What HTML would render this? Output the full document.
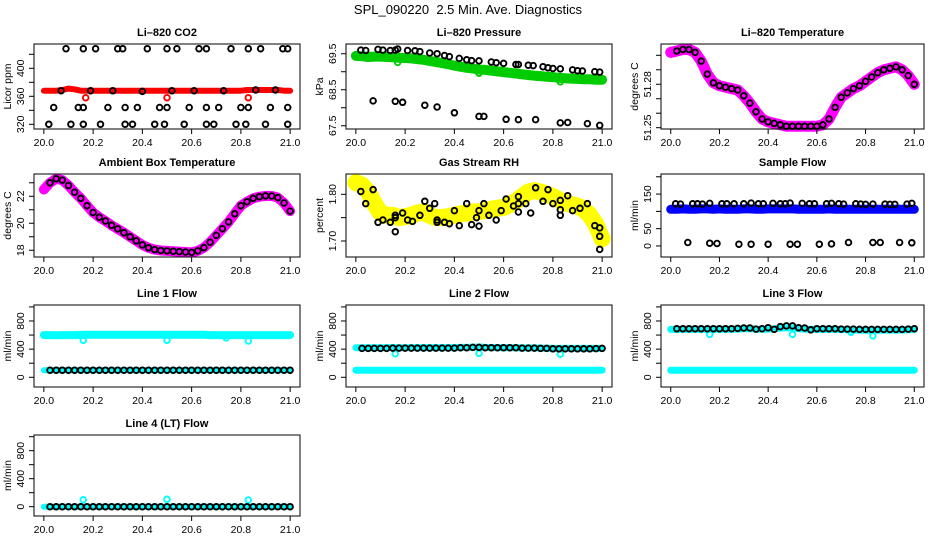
<!DOCTYPE html>
<html><head><meta charset="utf-8"><style>
html,body{margin:0;padding:0;background:#fff;}
svg{display:block;font-family:"Liberation Sans",sans-serif;}
</style></head><body>
<svg id="chart" width="936" height="540" xmlns="http://www.w3.org/2000/svg">
<text x="468" y="14" text-anchor="middle" font-size="13">SPL_090220&#160; 2.5 Min. Ave. Diagnostics</text>
</svg>
<script>
const T41=[20.0,20.025,20.05,20.075,20.1,20.125,20.15,20.175,20.2,20.225,20.25,20.275,20.3,20.325,20.35,20.375,20.4,20.425,20.45,20.475,20.5,20.525,20.55,20.575,20.6,20.625,20.65,20.675,20.7,20.725,20.75,20.775,20.8,20.825,20.85,20.875,20.9,20.925,20.95,20.975,21.0];
const xTicks=[20.0,20.2,20.4,20.6,20.8,21.0];
const xTickLabels=["20.0","20.2","20.4","20.6","20.8","21.0"];
// CO2
const co2Red=[368,368,368,369,371,370,368,368,368,368,368,368,368,368,368,368,368,368,368,368,368,368,368,368,368,368,368,368,368,368,368,368,368,369,369,369,369,369,369,368,368];
const co2RedPtsT=[20.17,20.50,20.83];
const co2RedPtsV=[358,358,358];
const co2BlkT=[20.09,20.16,20.21,20.30,20.32,20.42,20.50,20.54,20.63,20.66,20.76,20.83,20.88,20.97,20.99,20.04,20.14,20.16,20.26,20.33,20.38,20.47,20.50,20.59,20.66,20.71,20.80,20.83,20.92,20.99,20.02,20.11,20.16,20.23,20.33,20.36,20.45,20.49,20.57,20.66,20.69,20.78,20.82,20.90,20.99,20.07,20.19,20.28,20.40,20.52,20.61,20.73,20.86,20.94];
const co2BlkV=[428,428,428,428,428,428,428,428,428,428,428,428,428,428,428,344,344,344,344,344,344,344,344,344,344,344,344,344,344,344,320,320,320,320,320,320,320,320,320,320,320,320,320,320,320,368,368,368,367,368,368,368,369,369];
// Pressure
const presGreen=[69.44,69.43,69.41,69.42,69.42,69.41,69.40,69.39,69.38,69.37,69.35,69.33,69.30,69.27,69.24,69.21,69.17,69.14,69.11,69.09,69.06,69.05,69.03,69.01,68.99,68.97,68.95,68.93,68.91,68.89,68.88,68.86,68.85,68.83,68.82,68.81,68.80,68.79,68.79,68.78,68.78];
const presBlkT=[20.02,20.04,20.09,20.11,20.14,20.16,20.17,20.21,20.24,20.26,20.30,20.33,20.36,20.38,20.42,20.45,20.47,20.50,20.55,20.57,20.60,20.65,20.66,20.70,20.72,20.76,20.78,20.80,20.83,20.88,20.90,20.92,20.97,20.99,20.07,20.16,20.19,20.28,20.33,20.40,20.50,20.52,20.61,20.66,20.73,20.83,20.86,20.94,20.99];
const presBlkV=[69.60,69.59,69.62,69.60,69.59,69.60,69.63,69.59,69.58,69.56,69.52,69.50,69.45,69.42,69.37,69.33,69.31,69.30,69.27,69.25,69.23,69.20,69.20,69.18,69.17,69.14,69.11,69.09,69.08,69.05,69.03,69.02,69.00,68.99,68.19,68.18,68.15,68.07,68.02,67.86,67.76,67.76,67.68,67.67,67.67,67.58,67.59,67.56,67.51];
const presGreenPtsT=[20.17,20.50,20.83];
const presGreenPtsV=[69.26,68.96,68.72];
// Temperature
const tempMag=[51.302,51.303,51.304,51.304,51.302,51.296,51.287,51.281,51.279,51.278,51.277,51.276,51.272,51.267,51.261,51.256,51.254,51.253,51.252,51.251,51.251,51.251,51.251,51.251,51.251,51.252,51.256,51.264,51.271,51.274,51.277,51.279,51.282,51.285,51.288,51.290,51.291,51.292,51.290,51.286,51.280];
// Ambient
const ambMag=[22.5,23.0,23.3,23.2,22.8,22.3,21.85,21.3,20.8,20.45,20.17,19.85,19.58,19.3,19.0,18.7,18.4,18.18,18.05,17.98,17.95,17.93,17.9,17.87,17.84,17.95,18.2,18.6,19.1,19.6,20.1,20.7,21.3,21.6,21.85,21.97,22.03,22.02,21.9,21.5,20.9];
// RH
const rhYel=[1.825,1.82,1.805,1.78,1.76,1.755,1.755,1.75,1.752,1.755,1.76,1.762,1.755,1.75,1.75,1.752,1.755,1.758,1.76,1.762,1.763,1.765,1.768,1.77,1.772,1.778,1.785,1.795,1.805,1.808,1.805,1.80,1.795,1.788,1.782,1.778,1.775,1.768,1.755,1.735,1.705];
const rhBlkT=[20.02,20.04,20.07,20.09,20.11,20.14,20.16,20.16,20.16,20.19,20.21,20.23,20.26,20.28,20.30,20.32,20.33,20.33,20.36,20.38,20.40,20.42,20.45,20.47,20.49,20.50,20.50,20.52,20.54,20.57,20.59,20.61,20.64,20.66,20.66,20.66,20.69,20.71,20.73,20.76,20.78,20.80,20.83,20.83,20.83,20.86,20.88,20.91,20.94,20.97,20.99,20.99,20.99];
const rhBlkV=[1.806,1.78,1.81,1.74,1.745,1.74,1.75,1.755,1.72,1.76,1.745,1.742,1.755,1.785,1.77,1.78,1.745,1.74,1.74,1.737,1.765,1.733,1.78,1.735,1.75,1.765,1.732,1.78,1.755,1.745,1.765,1.79,1.775,1.795,1.78,1.762,1.78,1.76,1.814,1.785,1.81,1.78,1.787,1.767,1.755,1.797,1.765,1.77,1.78,1.733,1.728,1.71,1.682];
// Sample flow
const sampBlue=[106,106,107,106,106,107,107,106,107,106,106,106,107,107,106,106,107,107,107,107,107,106,106,106,106,106,107,106,106,106,106,106,106,106,106,106,106,106,106,106,106];
const sampBlkT=[20.02,20.04,20.09,20.11,20.13,20.16,20.21,20.23,20.26,20.30,20.33,20.36,20.38,20.42,20.45,20.47,20.49,20.54,20.57,20.59,20.64,20.66,20.69,20.71,20.76,20.78,20.80,20.83,20.88,20.90,20.92,20.97,20.99,20.07,20.16,20.19,20.28,20.33,20.40,20.49,20.52,20.61,20.66,20.73,20.83,20.86,20.94,20.99];
const sampBlkV=[122,121,122,122,121,123,122,122,122,122,124,122,122,123,122,122,124,123,122,122,122,123,122,121,122,121,120,121,121,120,120,121,123,10,8,7,5,5,5,5,5,5,6,10,10,10,10,9];
// Line flows
const l1Cyan=[600,600,598,600,600,600,602,605,605,605,605,605,605,605,605,605,605,605,605,605,605,605,605,605,605,605,605,600,600,600,600,600,600,600,600,600,600,600,600,600,600];
const l1Low=[100,100,100,100,100,100,100,100,100,100,100,100,100,100,100,100,100,100,100,100,100,100,100,100,100,100,100,100,100,100,100,100,100,100,100,100,100,100,100,100,100];
const l1DipT=[20.16,20.50,20.74,20.83];
const l1DipV=[525,525,560,515];
const l2Cyan=[420,420,420,420,420,422,422,420,420,422,422,422,422,422,422,422,422,425,425,428,430,425,422,422,420,420,420,418,418,418,415,412,410,410,410,410,410,410,410,410,410];
const l2Blk=[410,410,410,410,410,410,415,415,415,415,415,415,415,415,415,415,415,420,420,425,425,420,420,420,420,420,420,415,415,415,410,410,405,405,405,405,405,405,405,408,410];
const l2DipT=[20.16,20.50,20.83];
const l2DipV=[335,340,330];
const l3Cyan=[680,680,680,680,680,680,680,680,680,680,682,685,690,690,685,682,685,690,700,705,700,690,685,680,680,680,680,680,678,675,672,670,668,668,670,670,670,670,672,675,680];
const l3Blk=[690,690,690,690,690,690,690,690,690,690,690,695,700,700,685,690,705,680,720,730,730,705,700,675,690,690,690,690,685,685,685,680,680,680,680,680,680,680,680,685,690];
const l3DipT=[20.16,20.50,20.74,20.83];
const l3DipV=[610,610,640,590];
const l4Zero=[0,0,0,0,0,0,0,0,0,0,0,0,0,0,0,0,0,0,0,0,0,0,0,0,0,0,0,0,0,0,0,0,0,0,0,0,0,0,0,0,0];
const l4BumpT=[20.16,20.50,20.83];
const l4BumpV=[100,105,95];

const svg=document.getElementById('chart');
const NS='http://www.w3.org/2000/svg';
function mk(tag,attrs,parent){const e=document.createElementNS(NS,tag);for(const k in attrs)e.setAttribute(k,attrs[k]);(parent||svg).appendChild(e);return e;}
const colL=[34,346,661],colR=[300,612,924],rowT=[44,174,305,435],rowB=[129,257,387,516];
const XMIN=19.96,XMAX=21.04;
const black='#000',red='#ff0000',green='#00cc00',mag='#ff00ff',yel='#ffff00',blue='#0000ff',cyan='#00ffff';

function panel(cfg){
  const L=colL[cfg.c],R=colR[cfg.c],T=rowT[cfg.r],B=rowB[cfg.r];
  const g=mk('g',{});
  
  
  const sx=v=>L+(v-XMIN)/(XMAX-XMIN)*(R-L);
  const sy=v=>B-(v-cfg.ymin)/(cfg.ymax-cfg.ymin)*(B-T);
  const marks=mk('g',{},g);
  
  
  cfg.series.forEach(s=>{
    if(s.kind==='band'){
      const pts=s.t.map((t,i)=>sx(t).toFixed(1)+','+sy(s.v[i]).toFixed(1)).join(' ');
      const pl=mk('polyline',{points:pts,fill:'none',stroke:s.col,'stroke-width':s.w,'stroke-linejoin':'round','stroke-linecap':'round'},marks);
      
      
    } else {
      s.t.forEach((t,i)=>{
        const c=mk('circle',{cx:sx(t).toFixed(1),cy:sy(s.v[i]).toFixed(1),r:2.8,fill:'none',stroke:s.col,'stroke-width':1.9},marks);
        
        
      });
    }
  });
  const box=mk('rect',{x:L,y:T,width:R-L,height:B-T,fill:'none',stroke:'#000','stroke-width':1},g);
  
  
  const ttl=mk('text',{x:(L+R)/2,y:T-8,'text-anchor':'middle','font-size':11,'font-weight':'bold'},g);
  ttl.textContent=cfg.title;
  
  
  xTicks.forEach((t,i)=>{
    const x=sx(t);
    mk('line',{x1:x,x2:x,y1:B,y2:B+5,stroke:'#000'},g);
    const tx=mk('text',{x:x,y:B+17,'text-anchor':'middle','font-size':10.5},g);
    tx.textContent=xTickLabels[i];
    
    
  });
  cfg.yt.forEach((v,i)=>{
    const y=sy(v);
    mk('line',{x1:L-5,x2:L,y1:y,y2:y,stroke:'#000'},g);
    if(cfg.ytl[i]){
      const tx=mk('text',{x:L-10,y:y,'text-anchor':'middle','font-size':10.5,transform:`rotate(-90 ${L-10} ${y})`},g);
      tx.textContent=cfg.ytl[i];
      
      
    }
  });
  const yl=(T+B)/2;
  const at=mk('text',{x:L-23,y:yl,'text-anchor':'middle','font-size':10.5,transform:`rotate(-90 ${L-23} ${yl})`},g);
  at.textContent=cfg.ylab;
  
  
}
const T40=T41.slice(1);
const flowTicks=[0,200,400,600,800,1000],flowLbl=['0','','400','','800',''];
panel({name:'co2-panel',r:0,c:0,title:'Li\u2013820 CO2',ylab:'Licor ppm',ymin:313.3,ymax:434.7,yt:[320,340,360,380,400,420],ytl:['320','','360','','400',''],
 series:[{kind:'band',t:T41,v:co2Red,col:red,w:6,name:'co2-band'},{kind:'pts',t:co2RedPtsT,v:co2RedPtsV,col:red,name:'co2-red'},{kind:'pts',t:co2BlkT,v:co2BlkV,col:black,name:'co2-black'}]});
panel({name:'pressure-panel',r:0,c:1,title:'Li\u2013820 Pressure',ylab:'kPa',ymin:67.41,ymax:69.77,yt:[67.5,68,68.5,69,69.5],ytl:['67.5','','68.5','','69.5'],
 series:[{kind:'band',t:T41,v:presGreen,col:green,w:10,name:'pressure-band'},{kind:'pts',t:presGreenPtsT,v:presGreenPtsV,col:green,name:'pressure-green'},{kind:'pts',t:presBlkT,v:presBlkV,col:black,name:'pressure-black'}]});
panel({name:'li820-temp-panel',r:0,c:2,title:'Li\u2013820 Temperature',ylab:'degrees C',ymin:51.2491,ymax:51.3078,yt:[51.25,51.26,51.27,51.28,51.29,51.30],ytl:['51.25','','','51.28','',''],
 series:[{kind:'band',t:T41,v:tempMag,col:mag,w:11,name:'temp-band'},{kind:'pts',t:T40,v:tempMag.slice(1),col:black,name:'temp-black'}]});
panel({name:'ambient-temp-panel',r:1,c:0,title:'Ambient Box Temperature',ylab:'degrees C',ymin:17.5,ymax:23.65,yt:[18,19,20,21,22,23],ytl:['18','','20','','22',''],
 series:[{kind:'band',t:T41,v:ambMag,col:mag,w:10,name:'ambient-band'},{kind:'pts',t:T40,v:ambMag.slice(1),col:black,name:'ambient-black'}]});
panel({name:'rh-panel',r:1,c:1,title:'Gas Stream RH',ylab:'percent',ymin:1.6657,ymax:1.8435,yt:[1.70,1.75,1.80],ytl:['1.70','','1.80'],
 series:[{kind:'band',t:T41,v:rhYel,col:yel,w:17,name:'rh-band'},{kind:'pts',t:rhBlkT,v:rhBlkV,col:black,name:'rh-black'}]});
panel({name:'sample-flow-panel',r:1,c:2,title:'Sample Flow',ylab:'ml/min',ymin:-31.9,ymax:208,yt:[0,50,100,150,200],ytl:['0','50','','150',''],
 series:[{kind:'band',t:T41,v:sampBlue,col:blue,w:9,name:'sample-band'},{kind:'pts',t:sampBlkT,v:sampBlkV,col:black,name:'sample-black'}]});
panel({name:'line1-flow-panel',r:2,c:0,title:'Line 1 Flow',ylab:'ml/min',ymin:-138,ymax:1027,yt:flowTicks,ytl:flowLbl,
 series:[{kind:'band',t:T41,v:l1Cyan,col:cyan,w:8,name:'line1-band'},{kind:'pts',t:l1DipT,v:l1DipV,col:cyan,name:'line1-dip'},{kind:'band',t:T41,v:l1Low,col:cyan,w:6,name:'line1-low-band'},{kind:'pts',t:T40,v:l1Low.slice(1),col:black,name:'line1-black'}]});
panel({name:'line2-flow-panel',r:2,c:1,title:'Line 2 Flow',ylab:'ml/min',ymin:-138,ymax:1027,yt:flowTicks,ytl:flowLbl,
 series:[{kind:'band',t:T41,v:l2Cyan,col:cyan,w:7,name:'line2-band'},{kind:'pts',t:l2DipT,v:l2DipV,col:cyan,name:'line2-dip'},{kind:'band',t:T41,v:l1Low,col:cyan,w:7,name:'line2-low-band'},{kind:'pts',t:T40,v:l2Blk.slice(1),col:black,name:'line2-black'}]});
panel({name:'line3-flow-panel',r:2,c:2,title:'Line 3 Flow',ylab:'ml/min',ymin:-138,ymax:1027,yt:flowTicks,ytl:flowLbl,
 series:[{kind:'band',t:T41,v:l3Cyan,col:cyan,w:7,name:'line3-band'},{kind:'pts',t:l3DipT,v:l3DipV,col:cyan,name:'line3-dip'},{kind:'band',t:T41,v:l1Low,col:cyan,w:7,name:'line3-low-band'},{kind:'pts',t:T40,v:l3Blk.slice(1),col:black,name:'line3-black'}]});
panel({name:'line4-flow-panel',r:3,c:0,title:'Line 4 (LT) Flow',ylab:'ml/min',ymin:-133,ymax:1024,yt:flowTicks,ytl:flowLbl,
 series:[{kind:'band',t:T41,v:l4Zero,col:cyan,w:6,name:'line4-band'},{kind:'pts',t:l4BumpT,v:l4BumpV,col:cyan,name:'line4-bump'},{kind:'pts',t:T40,v:l4Zero.slice(1),col:black,name:'line4-black'}]});
</script>
</body></html>
